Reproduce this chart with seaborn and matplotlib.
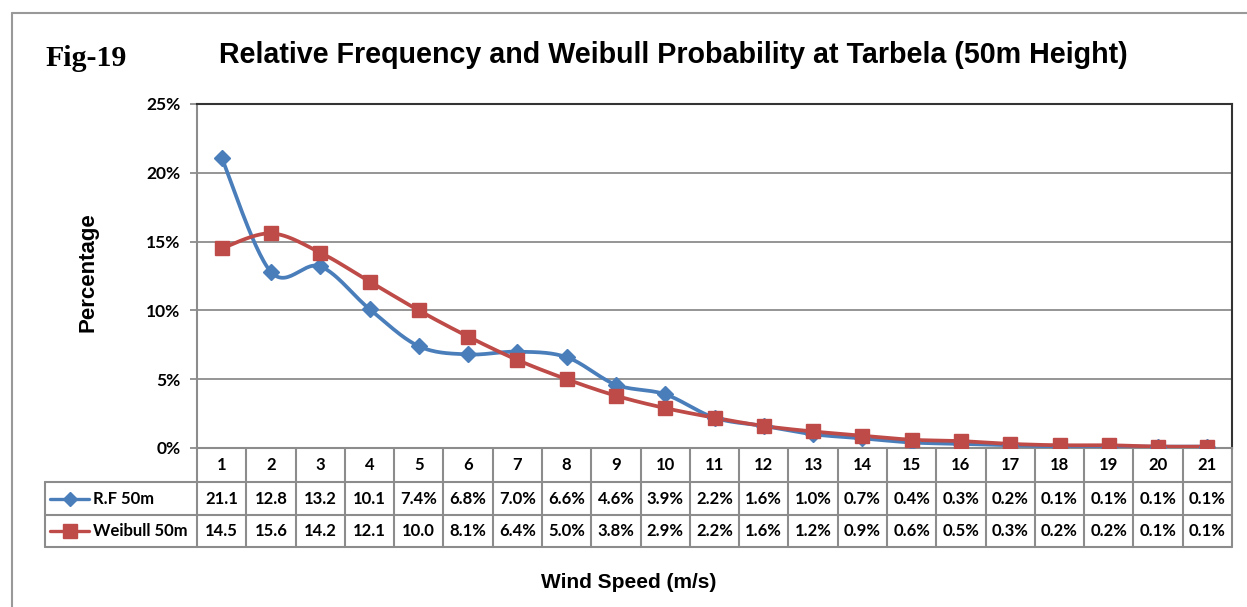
import numpy as np
import pandas as pd
import matplotlib
matplotlib.use("Agg")
import matplotlib.pyplot as plt
from matplotlib.lines import Line2D
import seaborn as sns

# ---- data ----
wind_speed = list(range(1, 22))
rf_50m = [21.1, 12.8, 13.2, 10.1, 7.4, 6.8, 7.0, 6.6, 4.6, 3.9, 2.2,
          1.6, 1.0, 0.7, 0.4, 0.3, 0.2, 0.1, 0.1, 0.1, 0.1]
weibull_50m = [14.5, 15.6, 14.2, 12.1, 10.0, 8.1, 6.4, 5.0, 3.8, 2.9, 2.2,
               1.6, 1.2, 0.9, 0.6, 0.5, 0.3, 0.2, 0.2, 0.1, 0.1]
rf_labels = ["21.1", "12.8", "13.2", "10.1", "7.4%", "6.8%", "7.0%", "6.6%",
             "4.6%", "3.9%", "2.2%", "1.6%", "1.0%", "0.7%", "0.4%", "0.3%",
             "0.2%", "0.1%", "0.1%", "0.1%", "0.1%"]
weibull_labels = ["14.5", "15.6", "14.2", "12.1", "10.0", "8.1%", "6.4%",
                  "5.0%", "3.8%", "2.9%", "2.2%", "1.6%", "1.2%", "0.9%",
                  "0.6%", "0.5%", "0.3%", "0.2%", "0.2%", "0.1%", "0.1%"]
series_names = ["R.F 50m", "Weibull 50m"]
y_ticks = [0, 5, 10, 15, 20, 25]

BLUE = "#4A7EBB"
RED = "#BE4B48"
GRID = "#8C8C8C"


def smooth_curve(x, y, steps=30):
    """Bezier smoothing through every point (spreadsheet-style smoothed line)."""
    x = np.asarray(x, float)
    y = np.asarray(y, float)
    n = len(x)
    px = np.concatenate([[x[0]], x, [x[-1]]])
    py = np.concatenate([[y[0]], y, [y[-1]]])
    xs, ys = [], []
    t = np.linspace(0, 1, steps)
    for i in range(n - 1):
        p0 = np.array([px[i], py[i]])
        p1 = np.array([px[i + 1], py[i + 1]])
        p2 = np.array([px[i + 2], py[i + 2]])
        p3 = np.array([px[i + 3], py[i + 3]])
        c1 = p1 + (p2 - p0) / 6.0
        c2 = p2 - (p3 - p1) / 6.0
        b = ((1 - t) ** 3)[:, None] * p1 + (3 * (1 - t) ** 2 * t)[:, None] * c1 \
            + (3 * (1 - t) * t ** 2)[:, None] * c2 + (t ** 3)[:, None] * p2
        xs.append(b[:, 0])
        ys.append(b[:, 1])
    return np.concatenate(xs), np.concatenate(ys)


sns.set_theme(style="white")
plt.rcParams["font.family"] = ["Lato", "DejaVu Sans"]
plt.rcParams["text.color"] = "black"
plt.rcParams["ytick.color"] = "black"

W, H = 1247, 607
fig = plt.figure(figsize=(W / 100, H / 100), dpi=100)

# plot area in pixels
L, R, T, B = 197, 1232, 104, 448
ax = fig.add_axes([L / W, 1 - B / H, (R - L) / W, (B - T) / H])

df = pd.DataFrame({"speed": wind_speed, "rf": rf_50m, "wb": weibull_50m})

for col, color, marker, msize in [("rf", BLUE, "D", 8.5), ("wb", RED, "s", 10.5)]:
    sx, sy = smooth_curve(df["speed"], df[col])
    sns.lineplot(x=sx, y=sy, ax=ax, color=color, linewidth=2.7, sort=False,
                 estimator=None, zorder=3)
    ax.plot(df["speed"], df[col], linestyle="none", marker=marker,
            markersize=msize, color=color, markeredgecolor=color, zorder=4)

ax.set_xlim(0.5, 21.5)
ax.set_ylim(0, 25)
ax.set_yticks(y_ticks)
ax.set_yticklabels([f"{v}%" for v in y_ticks], fontsize=12.5, fontweight="bold")
ax.set_xticks([])
ax.set_xlabel("")
ax.set_ylabel("")
ax.grid(False)
for v in y_ticks[1:-1]:
    ax.axhline(v, color=GRID, linewidth=1.3, zorder=1)
ax.tick_params(axis="y", which="both", left=True, length=5, width=1.3,
               color=GRID, pad=7, labelcolor="black")
ax.spines["left"].set_color(GRID)
ax.spines["left"].set_linewidth(1.5)
ax.spines["bottom"].set_color(GRID)
ax.spines["bottom"].set_linewidth(1.5)
for s in ("top", "right"):
    ax.spines[s].set_color("#333333")
    ax.spines[s].set_linewidth(1.5)

# ---- data table under the plot ----
tx = ax.get_xaxis_transform()
hpx = B - T


def ay(ypx):
    return (B - ypx) / hpx


row_y = [448, 482, 515, 547]
for k in range(22):
    xe = 0.5 + k
    ax.add_line(Line2D([xe, xe], [ay(row_y[0]), ay(row_y[3])], transform=tx,
                       color=GRID, linewidth=1.5, clip_on=False))
for yp in row_y[1:]:
    ax.add_line(Line2D([0.5, 21.5], [ay(yp), ay(yp)], transform=tx,
                       color=GRID, linewidth=1.5, clip_on=False))
# legend column of the table
for yp in row_y[1:]:
    fig.add_artist(Line2D([45 / W, L / W], [1 - yp / H, 1 - yp / H], color=GRID, linewidth=1.5))
fig.add_artist(Line2D([45 / W, 45 / W], [1 - 482 / H, 1 - 547 / H], color=GRID, linewidth=1.5))

cell_font = dict(fontsize=12, fontweight="bold")
for i, s in enumerate(wind_speed):
    ax.text(s, ay((row_y[0] + row_y[1]) / 2), str(s), transform=tx, ha="center",
            va="center", clip_on=False, **cell_font)
    ax.text(s, ay((row_y[1] + row_y[2]) / 2), rf_labels[i], transform=tx, ha="center",
            va="center", clip_on=False, **cell_font)
    ax.text(s, ay((row_y[2] + row_y[3]) / 2), weibull_labels[i], transform=tx, ha="center",
            va="center", clip_on=False, **cell_font)

for name, color, marker, msize, yc in [(series_names[0], BLUE, "D", 7.5, 498.5),
                                       (series_names[1], RED, "s", 10, 531)]:
    yf = 1 - yc / H
    fig.add_artist(Line2D([50 / W, 89 / W], [yf, yf], color=color, linewidth=2.4))
    fig.add_artist(Line2D([69.5 / W], [yf], color=color, marker=marker,
                          markersize=msize, linestyle="none"))
    fig.text(93 / W, yf, name, ha="left", va="center", **cell_font)

# ---- titles and axis labels ----
fig.text(673 / W, 1 - 55 / H, "Relative Frequency and Weibull Probability at Tarbela (50m Height)",
         ha="center", va="center", fontsize=20.6, fontweight="bold",
         family=["Liberation Sans", "DejaVu Sans"])
fig.text(45 / W, 1 - 58 / H, "Fig-19", ha="left", va="center", fontsize=21.5,
         fontweight="bold", family=["Liberation Serif", "DejaVu Serif"])
fig.text(88 / W, 1 - 272 / H, "Percentage", ha="center", va="center", rotation=90,
         fontsize=16, fontweight="bold", family=["Liberation Sans", "DejaVu Sans"])
fig.text(629 / W, 1 - 583 / H, "Wind Speed (m/s)", ha="center", va="center",
         fontsize=15, fontweight="bold", family=["Liberation Sans", "DejaVu Sans"])

# outer chart frame
fig.add_artist(Line2D([12 / W, 1.0], [1 - 13 / H, 1 - 13 / H], color="#999999", linewidth=1.5))
fig.add_artist(Line2D([12 / W, 12 / W], [1 - 13 / H, 0.0], color="#999999", linewidth=1.5))

fig.savefig("out.png", dpi=100, facecolor="white")
